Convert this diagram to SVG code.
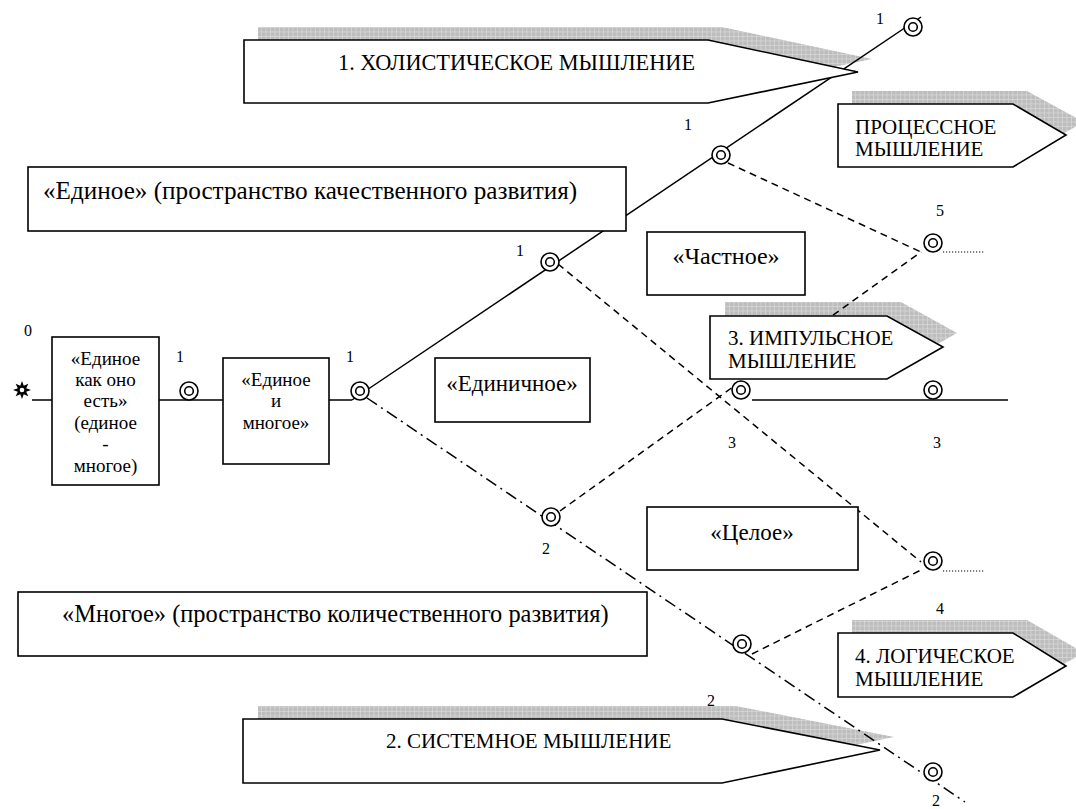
<svg xmlns="http://www.w3.org/2000/svg" width="1076" height="809" viewBox="0 0 1076 809">
<defs>
<pattern id="chk" width="4.5" height="4.5" patternUnits="userSpaceOnUse"><rect width="4.5" height="4.5" fill="#bdbdbd"/><path d="M0 0.4H4.5M0.4 0V4.5" stroke="#dadada" stroke-width="0.7"/></pattern>
<g id="wheel"><circle r="9" fill="#fff" stroke="#000" stroke-width="1.6"/><circle r="4.3" fill="none" stroke="#000" stroke-width="1.6"/></g>
</defs>
<style>
.t{font-family:"Liberation Serif","Times New Roman",serif;font-size:21px;fill:#000}
.s{font-family:"Liberation Serif","Times New Roman",serif;font-size:19px;fill:#000;text-anchor:middle}
.n{font-family:"Liberation Serif","Times New Roman",serif;font-size:16px;fill:#000;text-anchor:middle}
.box{fill:#fff;stroke:#000;stroke-width:1.6}
.sh{fill:url(#chk);stroke:none}
.ln{fill:none;stroke:#000;stroke-width:1.5}
.da{stroke-dasharray:7 5}
.dd{stroke-dasharray:12 5 2 5}
.dt{stroke-dasharray:1.2 1.8;stroke-width:1.2}
</style>
<rect width="1076" height="809" fill="#fff"/>

<g id="shadows">
<polygon class="sh" points="258,27 722,27 872,59 722,90 258,90"/>
<polygon class="sh" points="852,91 1027,91 1084,122 1027,154 852,154"/>
<polygon class="sh" points="725,302 901,302 957,333 901,365 725,365"/>
<polygon class="sh" points="852,620 1027,620 1084,653 1027,684 852,684"/>
<polygon class="sh" points="258,706 736,706 894,737 736,770 258,770"/>
</g>

<g id="connectors">
<path class="ln" d="M32 400H52M159 400H223M329 400H352"/>
<path class="ln" d="M352 400L921 17"/>
<path class="ln dd" d="M367 398L965 802"/>
<path class="ln da" d="M728 163L921 252"/>
<path class="ln da" d="M558 264L921 562"/>
<path class="ln da" d="M560 511L921 252"/>
<path class="ln da" d="M752 654L921 570"/>
<path class="ln" d="M752 400H1008"/>
<path class="ln dt" d="M943 252H985M943 571H985"/>
</g>

<g id="start"><path d="M31 390L26.16 391.72L28.36 396.36L23.72 394.16L22 399L20.28 394.16L15.64 396.36L17.84 391.72L13 390L17.84 388.28L15.64 383.64L20.28 385.84L22 381L23.72 385.84L28.36 383.64L26.16 388.28Z" fill="#000"/><circle cx="22" cy="390" r="2.3" fill="#fff"/><text class="n" x="28" y="336">0</text></g>

<g id="box-edinoe-kak"><rect class="box" x="52" y="337" width="107" height="148"/>
<text class="s" x="105.5" y="365">«Единое</text><text class="s" x="105.5" y="386">как оно</text><text class="s" x="105.5" y="407">есть»</text><text class="s" x="105.5" y="429">(единое</text><text class="s" x="105.5" y="450">-</text><text class="s" x="105.5" y="472">многое)</text></g>

<g id="box-edinoe-i"><rect class="box" x="223" y="358" width="106" height="106"/>
<text class="s" x="276" y="386">«Единое</text><text class="s" x="276" y="407">и</text><text class="s" x="276" y="429">многое»</text></g>

<g id="region-edinoe"><rect class="box" x="28" y="167" width="598" height="64"/><text class="t" x="43" y="199" style="font-size:25.2px">«Единое» (пространство качественного развития)</text></g>
<g id="region-chastnoe"><rect class="box" x="647" y="232" width="158" height="63"/><text class="t" x="726" y="264" style="text-anchor:middle;font-size:24px">«Частное»</text></g>
<g id="region-edinichnoe"><rect class="box" x="435" y="358" width="155" height="64"/><text class="t" x="512" y="391" style="text-anchor:middle;font-size:23px">«Единичное»</text></g>
<g id="region-tseloe"><rect class="box" x="647" y="507" width="211" height="63"/><text class="t" x="752" y="540" style="text-anchor:middle;font-size:23px">«Целое»</text></g>
<g id="region-mnogoe"><rect class="box" x="18" y="592" width="629" height="64"/><text class="t" x="62" y="622" style="font-size:24.4px">«Многое» (пространство количественного развития)</text></g>

<g id="holistic"><polygon class="box" points="244,40 708,40 858,72 708,103 244,103"/><text class="t" x="338" y="70" style="font-size:22.3px">1. ХОЛИСТИЧЕСКОЕ МЫШЛЕНИЕ</text></g>
<g id="process"><polygon class="box" points="838,104 1013,104 1066,135 1013,167 838,167"/><text class="t" x="855" y="134">ПРОЦЕССНОЕ</text><text class="t" x="855" y="156">МЫШЛЕНИЕ</text></g>
<g id="impulse"><polygon class="box" points="710,316 887,316 943,347 887,379 710,379"/><text class="t" x="728" y="345">3. ИМПУЛЬСНОЕ</text><text class="t" x="728" y="368">МЫШЛЕНИЕ</text></g>
<g id="logic"><polygon class="box" points="838,633 1013,633 1066,666 1013,697 838,697"/><text class="t" x="855" y="663">4. ЛОГИЧЕСКОЕ</text><text class="t" x="855" y="686">МЫШЛЕНИЕ</text></g>
<g id="system"><polygon class="box" points="243,719 722,719 880,750 722,783 243,783"/><text class="t" x="386" y="748">2. СИСТЕМНОЕ МЫШЛЕНИЕ</text></g>

<g id="n0"><use href="#wheel" x="189" y="391"/><text class="n" x="180" y="362">1</text></g>
<g id="n1"><use href="#wheel" x="360" y="391"/><text class="n" x="350" y="362">1</text></g>
<g id="n1a"><use href="#wheel" x="550" y="262"/><text class="n" x="520" y="256">1</text></g>
<g id="n1b"><use href="#wheel" x="721" y="155"/><text class="n" x="688" y="130">1</text></g>
<g id="n1c"><use href="#wheel" x="913" y="27"/><text class="n" x="880" y="24">1</text></g>
<g id="n2a"><use href="#wheel" x="551" y="517"/><text class="n" x="546" y="554">2</text></g>
<g id="n2b"><use href="#wheel" x="742" y="644"/><text class="n" x="711" y="706">2</text></g>
<g id="n2c"><use href="#wheel" x="933" y="772"/><text class="n" x="936" y="806">2</text></g>
<g id="n3a"><use href="#wheel" x="741" y="390"/><text class="n" x="732" y="448">3</text></g>
<g id="n3b"><use href="#wheel" x="933" y="390"/><text class="n" x="937" y="448">3</text></g>
<g id="n5"><use href="#wheel" x="933" y="243"/><text class="n" x="940" y="216">5</text></g>
<g id="n4"><use href="#wheel" x="933" y="561"/><text class="n" x="940" y="614">4</text></g>
</svg>
